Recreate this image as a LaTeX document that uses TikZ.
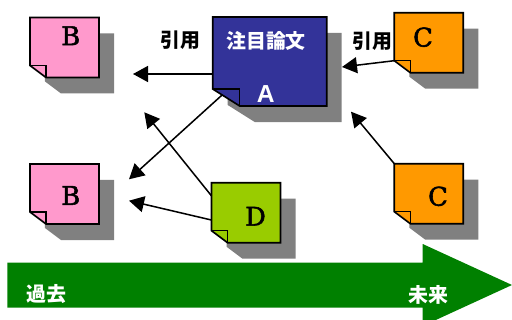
\documentclass[tikz,border=0pt]{standalone}
\usepackage{fontspec}
\newfontfamily\jpfont{Noto Sans CJK JP}
\newfontfamily\arialfont{Liberation Sans}
\newfontfamily\letterfont{DejaVu Serif}[FakeBold=2]
\usepackage{tikz}
\usetikzlibrary{arrows.meta,calc}
\definecolor{notepink}{RGB}{255,153,204}
\definecolor{noteorange}{RGB}{255,153,0}
\definecolor{notelime}{RGB}{153,204,0}
\definecolor{noteblue}{RGB}{51,51,153}
\definecolor{timegreen}{RGB}{0,128,0}
\definecolor{shadowgray}{RGB}{128,128,128}
\tikzset{
  note/.style={rectangle,inner sep=0pt,outer sep=0pt,
               minimum width=2.07cm,minimum height=1.8cm},
  bignote/.style={note,minimum width=3.42cm,minimum height=2.67cm},
  noteedge/.style={draw=black,line width=1.4pt,line join=miter},
  noteshadow/.style={fill=shadowgray,transform canvas={shift={(0.45cm,-0.48cm)}}},
  letter/.style={font=\letterfont\fontsize{22pt}{22pt}\selectfont,inner sep=0pt},
  jptext/.style={font=\jpfont\bfseries\fontsize{17pt}{17pt}\selectfont,inner sep=0pt},
  cite/.style={-{Triangle[length=0.45cm,width=0.48cm]},line width=1.3pt},
}

\begin{document}
\begin{tikzpicture}[x=0.03cm,y=-0.03cm,
      fold/.style={draw=black,line width=1.2pt,line join=miter},
    ]
    \useasboundingbox (0,0) rectangle (512,320);
    \clip (0,0) rectangle (512,320);

    % time line
    \fill[timegreen] (7.3,262.7) -- (422.7,262.7) -- (422.7,244) -- (512,285)
      -- (422.7,326) -- (422.7,307.7) -- (7.3,307.7) -- cycle;
    \node[jptext,white] (past)   at (46.5,294) {過去};
    \node[jptext,white] (future) at (428,295)  {未来};

    % papers
    \node[bignote] (a)  at (269.7,61.5)  {};
    \node[note]    (b1) at (64.5,47.5)   {};
    \node[note]    (b2) at (64.5,194)    {};
    \node[note]    (c1) at (428.8,42.7)  {};
    \node[note]    (c2) at (428.8,193.7) {};
    \node[note]    (d)  at (246,212.7)   {};

    \foreach \n/\c/\fx/\fy in {a/noteblue/27/17,b1/notepink/16/12,b2/notepink/16/12,
                               c1/noteorange/16/12,c2/noteorange/16/12,d/notelime/16/12}{
      \path[noteshadow] (\n.north west) -- (\n.north east) -- (\n.south east)
        -- ($(\n.south west)+(\fx,0)$) -- ($(\n.south west)+(0,-\fy)$) -- cycle;
      \draw[noteedge,fill=\c] (\n.north west) -- (\n.north east) -- (\n.south east)
        -- ($(\n.south west)+(\fx,0)$) -- ($(\n.south west)+(0,-\fy)$) -- cycle;
      \draw[fold] ($(\n.south west)+(0,-\fy)$) -- ++(\fx,0) -- ++(0,\fy);
    }

    \node[jptext,white] (atitle) at (266,40.5) {注目論文};
    \node[font=\arialfont\bfseries\fontsize{21pt}{21pt}\selectfont,
          inner sep=0pt,white] (al) at (265.8,93.7) {A};
    \node[letter] (b1l) at (70.8,35.8)  {B};
    \node[letter] (b2l) at (70.8,195.5) {B};
    \node[letter] (c1l) at (423,37.2)   {C};
    \node[letter] (c2l) at (438,196.3)  {C};
    \node[letter] (dl)  at (255.5,216.2) {D};

    \node[jptext] (cite1) at (180,40.5)  {引用};
    \node[jptext] (cite2) at (372.7,41)  {引用};

    % citations
    \coordinate (tb1)  at (133,74);
    \coordinate (ta)   at (342,67);
    \coordinate (tb2a) at (129,179.3);
    \coordinate (tup)  at (144.3,112.3);
    \coordinate (tb2d) at (129,200.7);
    \coordinate (tac)  at (351,111.7);
    \draw[cite] (a.west |- tb1) -- (tb1);
    \draw[cite] ($(c1.south west)+(0,-12)$) -- (ta);
    \draw[cite] ($($(a.south west)+(0,-17)$)!0.35!($(a.south west)+(27,0)$)$) -- (tb2a);
    \draw[cite] (d.154) -- (tup);
    \draw[cite] (d.192) -- (tb2d);
    \draw[cite] (c2.north west) -- (tac);

  \end{tikzpicture}
\end{document}
